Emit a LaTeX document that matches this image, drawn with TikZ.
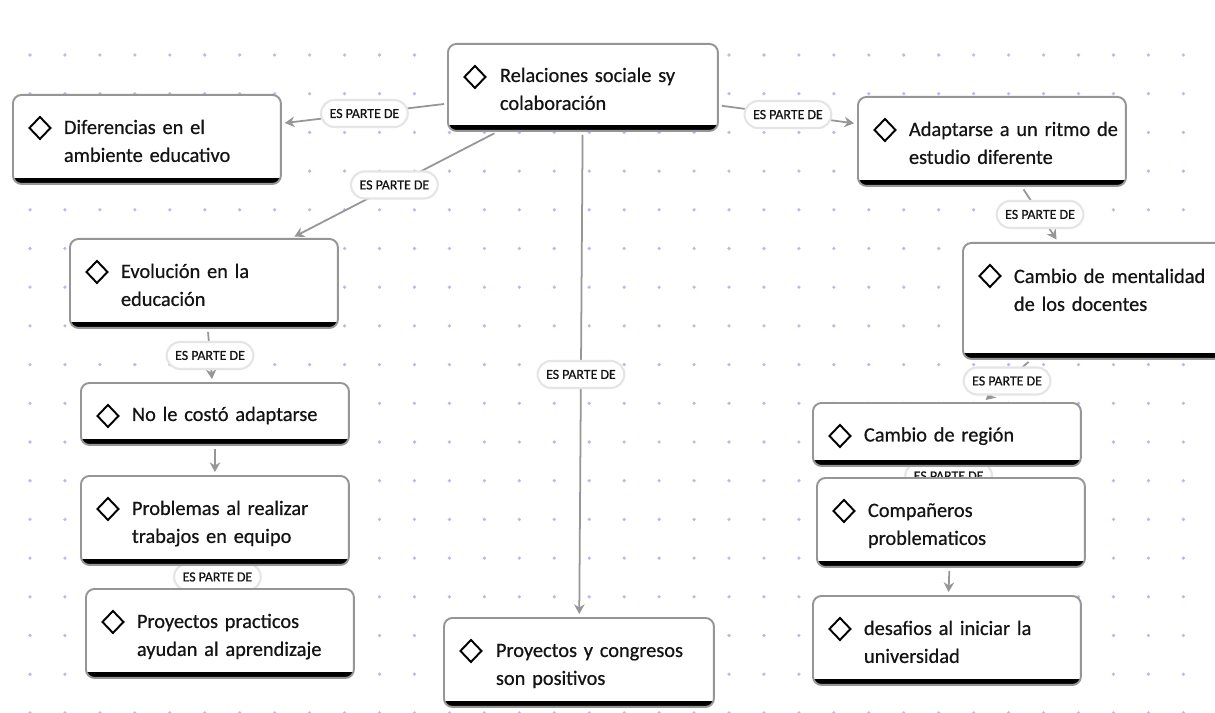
\documentclass[tikz,border=0pt]{standalone}
\usepackage{fontspec}
\setmainfont{Carlito}
\newfontfamily\boxfont{Carlito}[FakeBold=0.6]
\usetikzlibrary{arrows.meta}
\pgfdeclarelayer{dots}
\pgfdeclarelayer{links}
\pgfsetlayers{dots,links,main}
\definecolor{dotcolor}{RGB}{186,186,236}
\definecolor{linkgray}{RGB}{150,150,150}
\definecolor{boxgray}{RGB}{150,150,150}
\definecolor{inkblack}{RGB}{20,20,20}
\tikzset{
	concept/.style={draw=boxgray, line width=1.1pt, fill=white, rounded corners=0.17cm, anchor=north west,
		minimum width=5.36cm, minimum height=1.78cm, inner sep=0pt, text width=5.2cm, align=left,
		text height=0.3cm, text depth=0.52cm, text=inkblack, font=\boxfont\fontsize{11.6}{15.9}\selectfont,
		execute at begin node={\leftskip=0.94cm},
		path picture={
			\fill[black, sharp corners] (path picture bounding box.south west) rectangle ([yshift=0.12cm]path picture bounding box.south east);
			\draw[black, line width=1.1pt, sharp corners] ([shift={(0.54cm,-0.66cm)}]path picture bounding box.north west)
				+(0,0.22cm) -- +(0.21cm,0) -- +(0,-0.22cm) -- +(-0.21cm,0) -- cycle;
		}},
	oneline/.style={minimum height=1.24cm, text depth=0.02cm},
	link/.style={draw=linkgray, line width=1pt, -{Stealth[length=5.5pt,width=6pt]}, shorten <=0.06cm, shorten >=0.06cm},
	tag/.style={fill=white, draw=black!10, line width=1.2pt, rounded corners=0.27cm, inner xsep=0.17cm, inner ysep=0pt,
		minimum height=0.54cm, text=inkblack, font=\boxfont\fontsize{7.9}{9}\selectfont},
}

\begin{document}
\begin{tikzpicture}[x=0.02cm, y=-0.02cm]
			%%%%% START %%%%%
			
			\useasboundingbox (0, 0) rectangle (1215, 713);
			\clip (0, 0) rectangle (1215, 713);
			
			\begin{pgfonlayer}{dots}
				\fill[white] (0, 0) rectangle (1215, 713);
				\foreach \i in {0,...,34}
					\foreach \j in {0,...,17}
						\fill[dotcolor] (30+34.95*\i, 55+38.7*\j) circle (0.036cm);
			\end{pgfonlayer}
			
			% center
			\node[concept, minimum width=5.4cm, minimum height=1.74cm] (rel) at (447, 43) {Relaciones sociale sy\\colaboración};
			
			% left column
			\node[concept] (dif) at (12, 94) {Diferencias en el\\ambiente educativo};
			\node[concept] (evo) at (69, 238) {Evolución en la\\educación};
			\node[concept, oneline] (cos) at (80, 382) {No le costó adaptarse};
			\node[concept] (pro) at (80, 475) {Problemas al realizar\\trabajos en equipo};
			\node[concept] (pra) at (85, 588) {Proyectos practicos\\ayudan al aprendizaje};
			
			\node[concept, minimum width=5.4cm] (con) at (443, 617) {Proyectos y congresos\\son positivos};
			
			% right column
			\node[concept] (ada) at (857, 96) {Adaptarse a un ritmo de\\estudio diferente};
			\node[concept, minimum height=2.32cm, text depth=1.02cm] (men) at (962, 242) {Cambio de mentalidad\\de los docentes};
			\node[concept, oneline, minimum height=1.26cm] (reg) at (812, 402) {Cambio de región};
			\node[concept] (com) at (816, 477) {Compañeros\\problematicos};
			\node[concept] (des) at (812, 595) {desafios al iniciar la\\universidad};
			
			\begin{pgfonlayer}{links}
				\draw[link] (rel) -- (dif) node[tag, midway] (t1) {ES PARTE DE};
				\draw[link] (rel) -- (evo) node[tag, midway] (t2) {ES PARTE DE};
				\draw[link] (rel) -- (con) node[tag, midway] (t3) {ES PARTE DE};
				\draw[link] (rel) -- (ada) node[tag, midway] (t4) {ES PARTE DE};
				\draw[link] (ada) -- (men) node[tag, midway] (t5) {ES PARTE DE};
				\draw[link] (men) -- (reg) node[tag, midway] (t6) {ES PARTE DE};
				\draw[link] (reg) -- (com) node[tag, midway, yshift=-0.08cm] (t7) {ES PARTE DE};
				\draw[link] (com) -- (des);
				\draw[link] (evo) -- (cos) node[tag, midway] (t8) {ES PARTE DE};
				\draw[link] (cos) -- (pro);
				\draw[link] (pro) -- (pra) node[tag, midway] (t9) {ES PARTE DE};
			\end{pgfonlayer}
			
			%%%%% END %%%%%
\end{tikzpicture}
\end{document}
